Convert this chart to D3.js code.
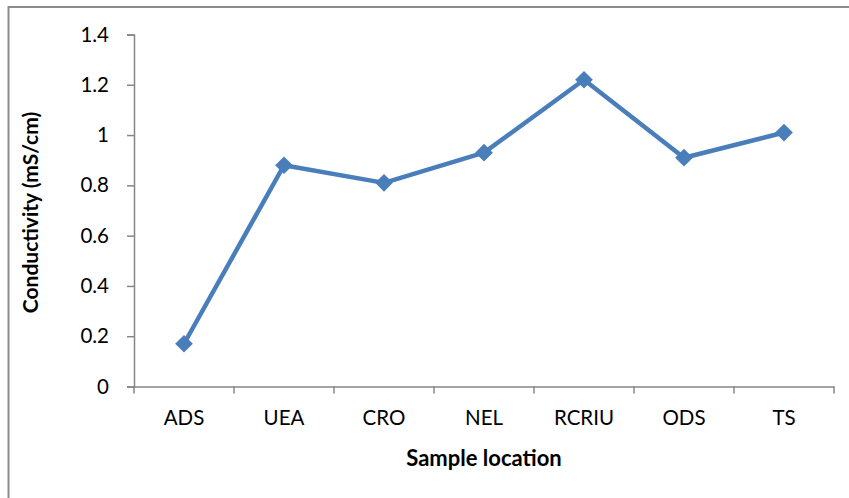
<!DOCTYPE html>
<html><head><meta charset="utf-8">
<script src="https://cdn.jsdelivr.net/npm/d3@7"></script>
<style>body{margin:0;background:#fff}svg{display:block}</style>
</head><body>
<script>
const categories = ["ADS","UEA","CRO","NEL","RCRIU","ODS","TS"];
const values = [0.17,0.88,0.81,0.93,1.22,0.91,1.01];
const yTicks = [0,0.2,0.4,0.6,0.8,1,1.2,1.4];
const yTickLabels = ["0","0.2","0.4","0.6","0.8","1","1.2","1.4"];
const xTitle = "Sample location";
const yTitle = "Conductivity (mS/cm)";

const W = 849, H = 498;
const svg = d3.select("body").append("svg").attr("width", W).attr("height", H);
const font = "Lato, 'Open Sans', sans-serif";

svg.append("rect").attr("x", 8.5).attr("y", 7).attr("width", 900).attr("height", 600)
  .attr("fill", "none").attr("stroke", "#8c8c8c").attr("stroke-width", 2);

const x0 = 134, x1 = 834, yTop = 34.5, yBot = 386.5;
const x = d3.scaleBand().domain(categories).range([x0, x1]);
const y = d3.scaleLinear().domain([0, 1.4]).range([yBot, yTop]);

const axisColor = "#868686";
const tickFont = 20.5;
// y axis
const yAxis = svg.append("g").attr("transform", `translate(${x0},0)`)
  .call(d3.axisLeft(y).tickValues(yTicks).tickFormat((d,i)=>yTickLabels[i]).tickSizeOuter(0).tickSize(7).tickPadding(18));
yAxis.select(".domain").attr("stroke", axisColor).attr("stroke-width", 1.5);
yAxis.selectAll(".tick line").attr("stroke", axisColor).attr("stroke-width", 1.5);
yAxis.selectAll(".tick text").attr("font-family", font).attr("font-size", tickFont).attr("fill", "#000");

// x axis
const xAxis = svg.append("g").attr("transform", `translate(0,${yBot})`)
  .call(d3.axisBottom(x).tickSize(0).tickPadding(24));
xAxis.select(".domain").attr("stroke", axisColor).attr("stroke-width", 1.5);
xAxis.selectAll(".tick text").attr("font-family", font).attr("font-size", tickFont).attr("fill", "#000");
// category boundary ticks
const bounds = categories.map(c => x(c)).concat([x1]);
xAxis.selectAll(".bt").data(bounds).enter().append("line").attr("class","bt")
  .attr("x1", d=>d).attr("x2", d=>d).attr("y1", 0).attr("y2", 7)
  .attr("stroke", axisColor).attr("stroke-width", 1.5);

// line
const cx = c => x(c) + x.bandwidth()/2;
const data = categories.map((c,i)=>({c, v: values[i]}));
svg.append("path").datum(data)
  .attr("d", d3.line().x(d=>cx(d.c)).y(d=>y(d.v)))
  .attr("fill","none").attr("stroke","#4a7ebb").attr("stroke-width",4.5).attr("stroke-linejoin","round");
svg.selectAll(".mk").data(data).enter().append("path").attr("class","mk")
  .attr("d", d3.symbol().type(d3.symbolDiamond2).size(200))
  .attr("transform", d=>`translate(${cx(d.c)},${y(d.v)})`)
  .attr("fill","#4a7ebb");

// titles
svg.append("text").attr("x", (x0+x1)/2).attr("y", 466).attr("text-anchor","middle")
  .attr("font-family", font).attr("font-weight","bold").attr("font-size",22).text(xTitle);
svg.append("text").attr("transform", `translate(38,${(yTop+yBot)/2+2}) rotate(-90)`).attr("text-anchor","middle")
  .attr("font-family", font).attr("font-weight","bold").attr("font-size",21).text(yTitle);
</script>
</body></html>
